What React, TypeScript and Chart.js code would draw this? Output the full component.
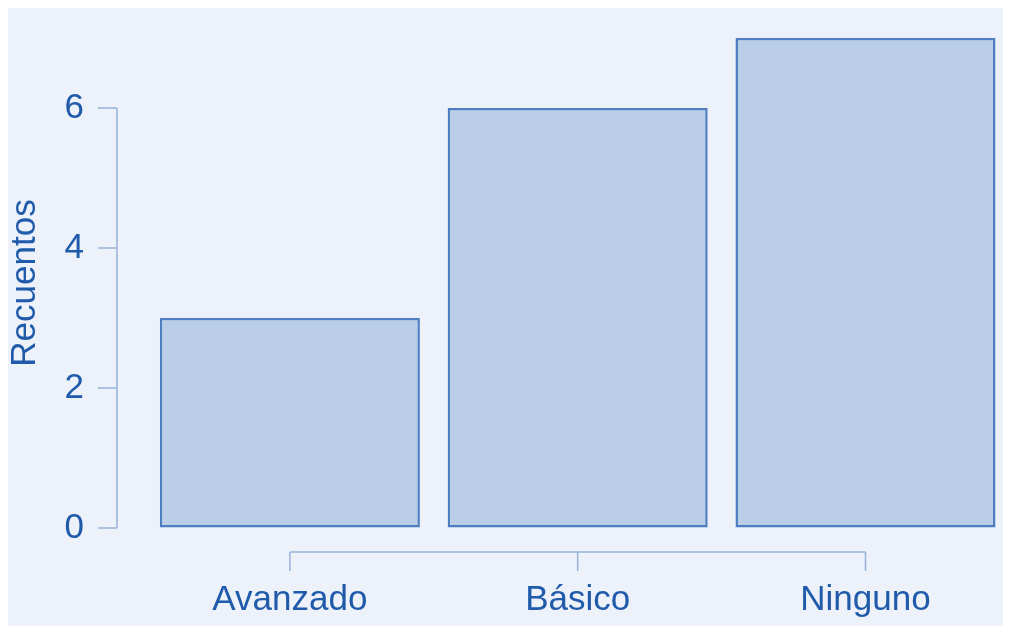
import React, { useEffect, useRef } from "react";
import { Chart, registerables } from "chart.js";

Chart.register(...registerables);

const categories = ["Avanzado", "Básico", "Ninguno"];
const counts = [3, 6, 7];
const yTicks = [0, 2, 4, 6];
const yTitle = "Recuentos";

const BG = "#EDF1F9";
const TEXT = "#1F5BAA";
const AXIS = "#97B2D9";
const FILL = "#BACEE8";
const BORDER = "#4E7EC2";
const CLEAR = "rgba(0,0,0,0)";
const FONT = "'Liberation Sans', Arial, sans-serif";

const rAxesPlugin = {
  id: "rAxes",
  afterDraw(chart: any) {
    const { ctx, chartArea } = chart;
    const xs = chart.scales.x;
    const ys = chart.scales.y;
    ctx.save();
    ctx.strokeStyle = AXIS;
    ctx.lineWidth = 1.5;
    // y axis
    const ax = chartArea.left - 29;
    const yTop = ys.getPixelForValue(yTicks[yTicks.length - 1]);
    const yBot = ys.getPixelForValue(yTicks[0]);
    ctx.beginPath();
    ctx.moveTo(ax, yTop);
    ctx.lineTo(ax, yBot);
    yTicks.forEach((v) => {
      const p = ys.getPixelForValue(v);
      ctx.moveTo(ax - 19, p);
      ctx.lineTo(ax, p);
    });
    ctx.stroke();
    // x axis
    const ay = chartArea.bottom + 24;
    const x0 = xs.getPixelForTick(0);
    const x1 = xs.getPixelForTick(categories.length - 1);
    ctx.beginPath();
    ctx.moveTo(x0, ay);
    ctx.lineTo(x1, ay);
    categories.forEach((_, i) => {
      const p = xs.getPixelForTick(i);
      ctx.moveTo(p, ay);
      ctx.lineTo(p, ay + 19);
    });
    ctx.stroke();
    ctx.restore();
  },
};

export default function App() {
  const ref = useRef<HTMLCanvasElement>(null);
  useEffect(() => {
    document.documentElement.style.overflow = "hidden";
    document.body.style.overflow = "hidden";
    const chart = new Chart(ref.current as HTMLCanvasElement, {
      type: "bar",
      data: {
        labels: categories,
        datasets: [
          {
            data: counts,
            backgroundColor: FILL,
            borderColor: BORDER,
            borderWidth: 2.5,
            borderSkipped: false,
            barPercentage: 0.9035,
            categoryPercentage: 1,
          },
        ],
      },
      options: {
        responsive: false,
        animation: false,
        layout: { padding: { left: 0, right: 1.6, top: 30, bottom: 5 } },
        plugins: { legend: { display: false }, tooltip: { enabled: false } },
        scales: {
          x: {
            offset: true,
            grid: { display: true, drawOnChartArea: false, drawTicks: true, tickLength: 51, color: CLEAR },
            border: { display: false },
            ticks: {
              color: TEXT,
              padding: 0,
              font: { family: FONT, size: 35, lineHeight: 1.2 },
            },
          },
          y: {
            min: 0,
            max: 7,
            grid: { display: true, drawOnChartArea: false, drawTicks: true, tickLength: 62, color: CLEAR },
            border: { display: false },
            afterBuildTicks: (scale: any) => {
              scale.ticks = yTicks.map((v) => ({ value: v }));
            },
            ticks: {
              color: TEXT,
              padding: 0,
              font: { family: FONT, size: 35, lineHeight: 1.2 },
            },
            title: {
              display: true,
              text: yTitle,
              color: TEXT,
              padding: { top: 0, bottom: 21.5 },
              font: { family: FONT, size: 35, lineHeight: 1 },
            },
          },
        },
      },
      plugins: [rAxesPlugin],
    });
    return () => chart.destroy();
  }, []);
  return (
    <div style={{ width: 1003, height: 618, background: BG }}>
      <canvas ref={ref} width={1003} height={618} style={{ display: "block" }} />
    </div>
  );
}
